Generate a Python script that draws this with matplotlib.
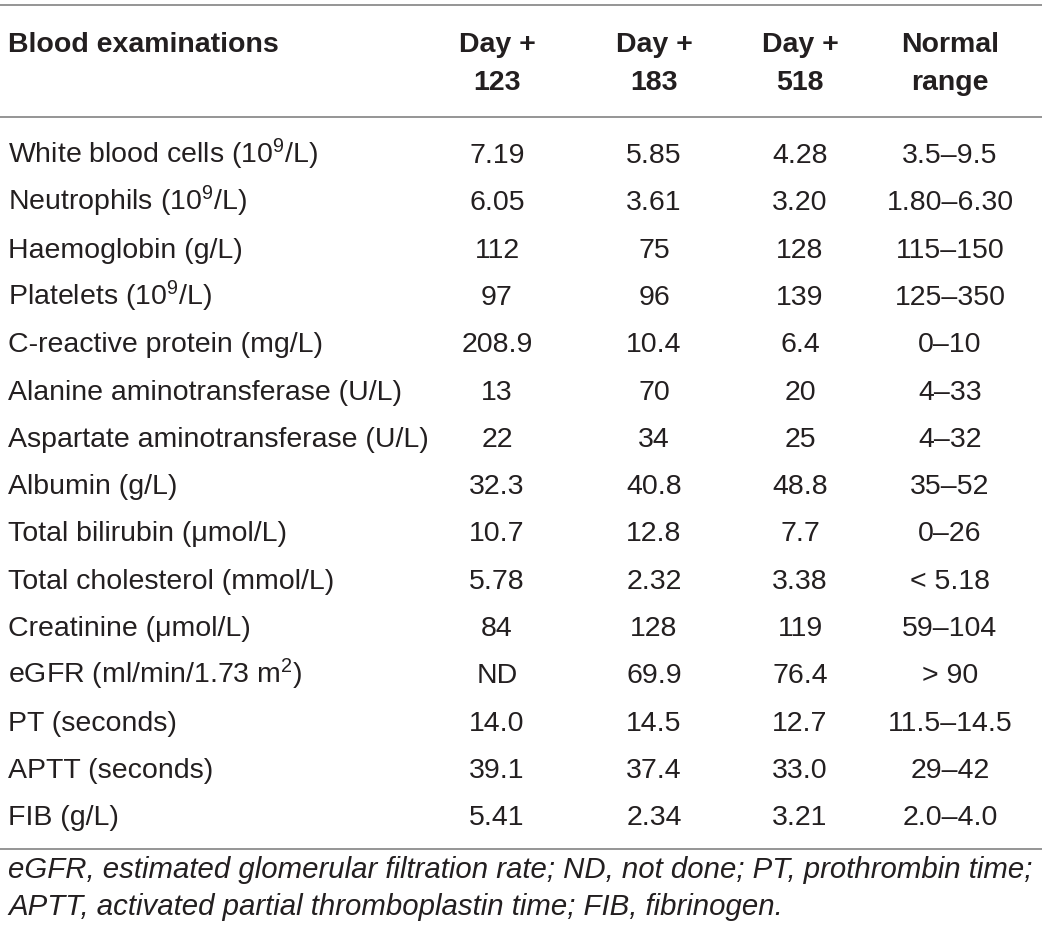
import matplotlib.pyplot as plt

plt.rcParams['font.family'] = ['Liberation Sans', 'DejaVu Sans']
plt.rcParams['mathtext.fontset'] = 'custom'
plt.rcParams['mathtext.rm'] = 'Liberation Sans'
plt.rcParams['mathtext.it'] = 'Liberation Sans:italic'

headers = ['Blood examinations', 'Day +\n123', 'Day +\n183', 'Day +\n518', 'Normal\nrange']

tests = [
    'White blood cells (10$^9$/L)',
    'Neutrophils (10$^9$/L)',
    'Haemoglobin (g/L)',
    'Platelets (10$^9$/L)',
    'C-reactive protein (mg/L)',
    'Alanine aminotransferase (U/L)',
    'Aspartate aminotransferase (U/L)',
    'Albumin (g/L)',
    'Total bilirubin (\u03bcmol/L)',
    'Total cholesterol (mmol/L)',
    'Creatinine (\u03bcmol/L)',
    'eGFR (ml/min/1.73 m$^2$)',
    'PT (seconds)',
    'APTT (seconds)',
    'FIB (g/L)',
]
day123 = ['7.19', '6.05', '112', '97', '208.9', '13', '22', '32.3', '10.7',
          '5.78', '84', 'ND', '14.0', '39.1', '5.41']
day183 = ['5.85', '3.61', '75', '96', '10.4', '70', '34', '40.8', '12.8',
          '2.32', '128', '69.9', '14.5', '37.4', '2.34']
day518 = ['4.28', '3.20', '128', '139', '6.4', '20', '25', '48.8', '7.7',
          '3.38', '119', '76.4', '12.7', '33.0', '3.21']
normal = ['3.5\u20139.5', '1.80\u20136.30', '115\u2013150', '125\u2013350', '0\u201310',
          '4\u201333', '4\u201332', '35\u201352', '0\u201326', '< 5.18', '59\u2013104',
          '> 90', '11.5\u201314.5', '29\u201342', '2.0\u20134.0']
footnote = ['eGFR, estimated glomerular filtration rate; ND, not done; PT, prothrombin time;',
            'APTT, activated partial thromboplastin time; FIB, fibrinogen.']

W, H = 1042, 936
fig = plt.figure(figsize=(W / 100, H / 100), dpi=100)
ax = fig.add_axes([0, 0, 1, 1])
ax.set_xlim(0, W)
ax.set_ylim(H, 0)
ax.axis('off')

col_x = [8, 497, 654, 800, 950]
fs = 20.5
txt = '#231f20'
rule = '#8c8c8c'
base = 10  # centre-to-baseline offset

# rules
for y in (5, 117, 849):
    ax.plot([0, W], [y, y], color=rule, lw=1.3, solid_capstyle='butt')

# header
ax.text(col_x[0], 42 + base, headers[0], ha='left', va='baseline', fontsize=fs,
        fontweight='bold', color=txt)
for x, h in zip(col_x[1:], headers[1:]):
    for k, line in enumerate(h.split('\n')):
        ax.text(x, 42 + 38 * k + base, line, ha='center', va='baseline',
                fontsize=fs, fontweight='bold', color=txt)

# body
y0, dy = 153, 47.3
columns = [day123, day183, day518, normal]
for i, name in enumerate(tests):
    y = y0 + i * dy + base
    ax.text(col_x[0], y, name, ha='left', va='baseline', fontsize=fs, color=txt)
    for x, col in zip(col_x[1:], columns):
        ax.text(x, y, col[i], ha='center', va='baseline', fontsize=fs, color=txt)

for k, line in enumerate(footnote):
    ax.text(col_x[0], 868 + 37 * k + base, line, ha='left', va='baseline',
            fontsize=21.2, style='italic', color=txt)

fig.savefig('out.png', dpi=100)
